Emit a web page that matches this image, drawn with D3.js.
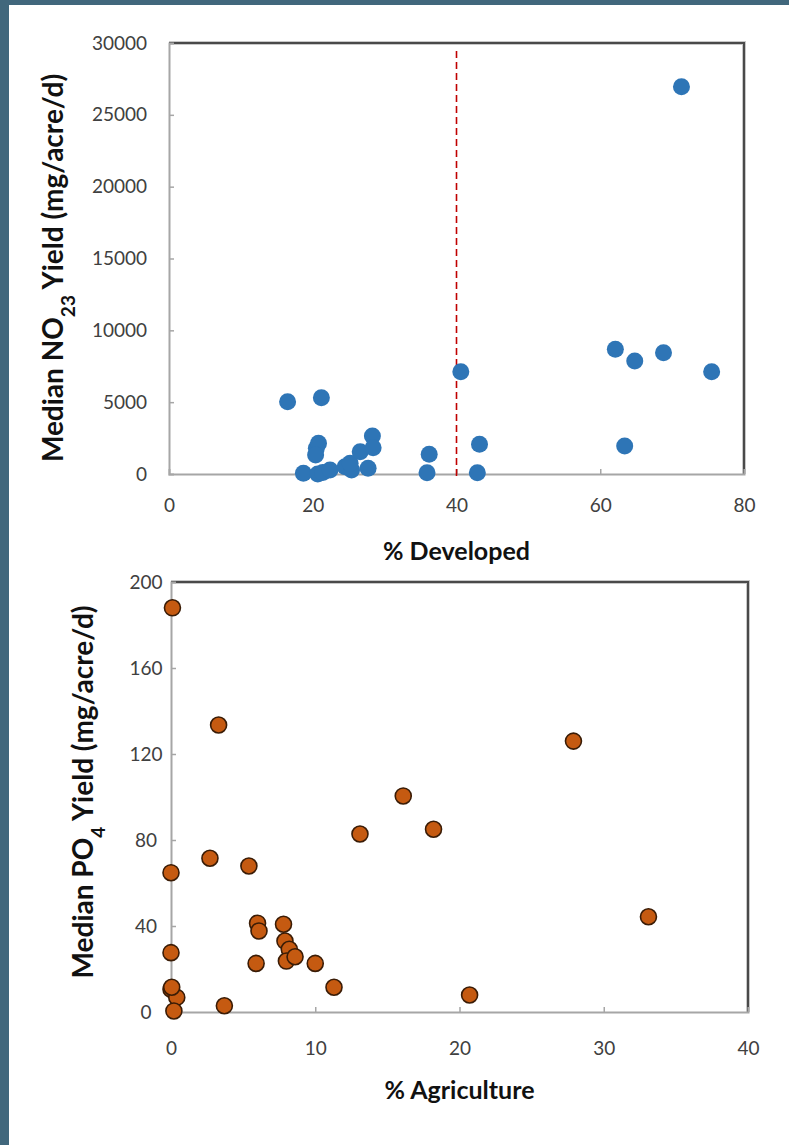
<!DOCTYPE html>
<html>
<head>
<meta charset="utf-8">
<script src="https://cdn.jsdelivr.net/npm/d3@7/dist/d3.min.js"></script>
<style>
  html, body { margin: 0; padding: 0; background: #41677c; }
  svg { display: block; }
  .tick text { font-family: Lato, "Open Sans", sans-serif; fill: #404040; }
  .title { font-family: Lato, "Open Sans", sans-serif; font-weight: bold; fill: #111111; }
</style>
</head>
<body>
<div id="chart"></div>
<script>
// top panel: % developed vs median NO23 yield
const devPct = [16.5, 21.2, 40.6, 18.7, 20.5, 20.8, 20.4, 20.7, 21.4, 22.4, 24.5, 25.4, 25.2, 26.6,
  28.3, 28.4, 27.7, 36.2, 35.9, 43.2, 42.9, 71.3, 62.1, 64.8, 68.8, 75.5, 63.4];
const no23Yield = [5030, 5310, 7120, 50, 1790, 2140, 1320, 0, 100, 280, 510, 280, 740, 1550,
  2640, 1830, 400, 1370, 90, 2070, 90, 26960, 8680, 7870, 8440, 7120, 1950];
const devTicks = [0, 20, 40, 60, 80];
const no23Ticks = [0, 5000, 10000, 15000, 20000, 25000, 30000];
const devCutoff = 40;

// bottom panel: % agriculture vs median PO4 yield
const agPct = [0.1, 3.3, 2.7, 5.4, 0, 13.1, 6.0, 6.1, 7.8, 7.9, 8.2, 8.0, 8.6, 10.0, 5.9, 0,
  11.3, 0, 0.4, 0.2, 3.7, 0.05, 16.1, 18.2, 27.9, 33.1, 20.7];
const po4Yield = [188, 133.5, 71.5, 67.9, 64.8, 82.8, 41.3, 37.7, 40.8, 33, 29.2, 23.7, 25.7, 22.6, 22.6, 27.6,
  11.5, 10.6, 6.8, 0.5, 2.9, 11.5, 100.5, 85, 126, 44.3, 7.9];
const agTicks = [0, 10, 20, 30, 40];
const po4Ticks = [0, 40, 80, 120, 160, 200];

const W = 789, H = 1145;
const svg = d3.select("#chart").append("svg").attr("width", W).attr("height", H);

svg.append("rect").attr("x", 9).attr("y", 5).attr("width", W - 9).attr("height", H - 5).attr("fill", "#ffffff");

function panel(opt) {
  const x = d3.scaleLinear().domain(opt.xDomain).range([opt.left, opt.right]);
  const y = d3.scaleLinear().domain(opt.yDomain).range([opt.bottom, opt.top]);

  // frame top and right (darker)
  const g = svg.append("g");
  g.append("path")
    .attr("d", `M${opt.left},${opt.top}H${opt.right}V${opt.bottom}`)
    .attr("fill", "none").attr("stroke", "#c8c8c8").attr("stroke-width", 4);
  g.append("path")
    .attr("d", `M${opt.left},${opt.top}H${opt.right}V${opt.bottom}`)
    .attr("fill", "none").attr("stroke", "#4a4a4a").attr("stroke-width", 2);

  const xAxis = g.append("g")
    .attr("transform", "translate(0," + opt.bottom + ")")
    .call(d3.axisBottom(x).tickValues(opt.xTicks).tickSize(-5).tickPadding(opt.xPad).tickFormat(d3.format("d")));
  const yAxis = g.append("g")
    .attr("transform", "translate(" + opt.left + ",0)")
    .call(d3.axisLeft(y).tickValues(opt.yTicks).tickSize(-5).tickPadding(opt.yPad).tickFormat(d3.format("d")));

  [xAxis, yAxis].forEach(a => {
    a.select(".domain").attr("stroke", "#a6a6a6").attr("stroke-width", 2);
    a.selectAll(".tick line").attr("stroke", "#a6a6a6").attr("stroke-width", 1.5);
    a.selectAll(".tick text").style("font-size", opt.tickFont + "px");
  });
  xAxis.selectAll(".tick").filter(d => d === opt.xDomain[0] || d === opt.xDomain[1]).select("line").remove();
  yAxis.selectAll(".tick").filter(d => d === opt.yDomain[0] || d === opt.yDomain[1]).select("line").remove();
  if (opt.yAnchor === "middle") yAxis.selectAll(".tick text").attr("text-anchor", "middle").attr("x", opt.yLabelX - opt.left);

  if (opt.cutoff != null) {
    g.append("line")
      .attr("x1", x(opt.cutoff)).attr("x2", x(opt.cutoff))
      .attr("y1", opt.top + 8).attr("y2", opt.bottom + 6)
      .attr("stroke", "#c00000").attr("stroke-width", 1.6).attr("stroke-dasharray", "7,4");
  }

  g.selectAll("circle.pt")
    .data(opt.xs.map((v, i) => ({ x: v, y: opt.ys[i] })))
    .enter().append("circle")
    .attr("class", "pt")
    .attr("cx", d => x(d.x))
    .attr("cy", d => y(d.y))
    .attr("r", opt.r)
    .attr("fill", opt.fill)
    .attr("stroke", opt.stroke)
    .attr("stroke-width", opt.strokeWidth);

  g.append("text").attr("class", "title")
    .attr("x", (opt.left + opt.right) / 2).attr("y", opt.xTitleY)
    .attr("text-anchor", "middle").style("font-size", "25px")
    .text(opt.xTitle);

  const yt = g.append("text").attr("class", "title")
    .attr("transform", `translate(${opt.yTitleX},${opt.yTitleMid}) rotate(-90)`)
    .attr("text-anchor", "middle").style("font-size", "28px");
  yt.append("tspan").text(opt.yTitle[0]);
  yt.append("tspan").attr("baseline-shift", "sub").style("font-size", "19px").text(opt.yTitle[1]);
  yt.append("tspan").text(opt.yTitle[2]);
}

panel({
  xDomain: [0, 80], yDomain: [0, 30000],
  left: 169, right: 744, top: 43, bottom: 474,
  xTicks: devTicks, yTicks: no23Ticks, xPad: 25, yPad: 22, tickFont: 19,
  xs: devPct, ys: no23Yield, r: 8.5, fill: "#2e75b6", stroke: "#2e75b6", strokeWidth: 0,
  cutoff: devCutoff,
  xTitle: "% Developed", xTitleY: 560, yTitleX: 63, yTitleMid: 268,
  yTitle: ["Median NO", "23", " Yield (mg/acre/d)"]
});

panel({
  xDomain: [0, 40], yDomain: [0, 200],
  left: 171, right: 748, top: 582, bottom: 1012,
  xTicks: agTicks, yTicks: po4Ticks, xPad: 30, yPad: 26, tickFont: 19,
  yAnchor: "middle", yLabelX: 146,
  xs: agPct, ys: po4Yield, r: 8, fill: "#c55a11", stroke: "#3a1c06", strokeWidth: 1.6,
  xTitle: "% Agriculture", xTitleY: 1099, yTitleX: 93, yTitleMid: 792,
  yTitle: ["Median PO", "4", " Yield (mg/acre/d)"]
});
</script>
</body>
</html>
